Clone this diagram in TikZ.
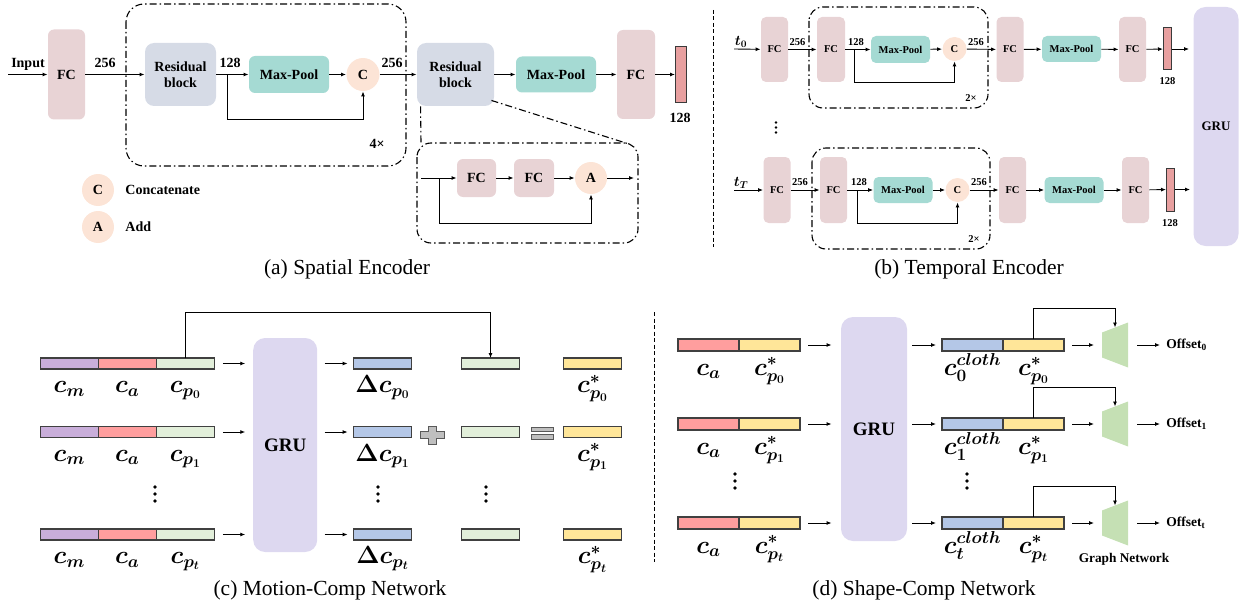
\documentclass[tikz,border=0pt]{standalone}
\usepackage[no-math]{fontspec}
\setmainfont{Liberation Serif}
\usepackage{bm}
\usetikzlibrary{arrows.meta,positioning}

\definecolor{fcpink}{HTML}{E8D3D5}
\definecolor{resblue}{HTML}{D6DBE6}
\definecolor{poolteal}{HTML}{A5DAD3}
\definecolor{opeach}{HTML}{FCE4D6}
\definecolor{barred}{HTML}{E8A0A0}
\definecolor{bardark}{HTML}{3A3A3A}
\definecolor{grulav}{HTML}{DDD8F0}
\definecolor{segpurple}{HTML}{C9AEDA}
\definecolor{segred}{HTML}{FF9E9E}
\definecolor{seggreen}{HTML}{E2EFDA}
\definecolor{segblue}{HTML}{B4C7E7}
\definecolor{segyellow}{HTML}{FFE699}
\definecolor{segdark}{HTML}{404040}
\definecolor{gnet}{HTML}{C5E0B4}
\definecolor{opgray}{HTML}{BFBFBF}
\definecolor{opdark}{HTML}{595959}

\begin{document}
\begin{tikzpicture}[x=1pt, y=-1pt, line width=0.9pt, >={Latex[length=5pt,width=4pt]}]
\tikzset{blk/.style={inner sep=0pt, rounded corners=6pt, align=center, font=\bfseries\fontsize{14}{16}\selectfont}}
\tikzset{bsm/.style={font=\bfseries\fontsize{10.5}{12}\selectfont, rounded corners=5pt}}
\tikzset{fcbox/.style={blk, fill=fcpink}}
\tikzset{resbox/.style={blk, fill=resblue, rounded corners=9pt}}
\tikzset{poolbox/.style={blk, fill=poolteal}}
\tikzset{opnode/.style={circle, fill=opeach, inner sep=0pt, font=\bfseries\fontsize{14}{16}\selectfont}}
\tikzset{featbar/.style={draw=bardark, fill=barred, inner sep=0pt, line width=1pt}}
\tikzset{grpbox/.style={line width=1.1pt, dash pattern=on 7pt off 3pt on 1.5pt off 3pt}}
\tikzset{num/.style={inner sep=0pt, font=\bfseries\fontsize{14}{16}\selectfont}}
\tikzset{grubox/.style={fill=grulav, rounded corners=12pt, inner sep=0pt, font=\bfseries\fontsize{19}{21}\selectfont}}
\tikzset{seg/.style={draw=segdark, line width=1.1pt, inner sep=0pt, outer sep=0pt, minimum width=58pt, minimum height=11pt}}
\tikzset{segd/.style={seg, minimum width=61pt, minimum height=12pt}}
\tikzset{lab/.style={anchor=base, inner sep=0pt, font=\fontsize{23}{23}\selectfont}}
\tikzset{capt/.style={inner sep=0pt, font=\fontsize{21.5}{24}\selectfont}}
\tikzset{opsign/.style={fill=opgray, draw=opdark, line width=0.8pt}}
\useasboundingbox (0,0) rectangle (1241,607);

% (a) spatial encoder
\node[num] (inp) at (28,64) {Input};
\coordinate (inA) at (8,74.5);
\node[fcbox, minimum width=37pt, minimum height=90pt] (fcA) at (66.5,74.5) {FC};
\node[resbox, minimum width=71pt, minimum height=63pt] (resA) at (180.5,74.5) {Residual\\block};
\node[poolbox, minimum width=80pt, minimum height=37pt] (poolA) at (289,74.5) {Max-Pool};
\node[opnode, minimum size=33pt] (catA) at (363,74.5) {C};
\node[resbox, minimum width=77pt, minimum height=63pt] (resB) at (455.5,74.5) {Residual\\block};
\node[poolbox, minimum width=80pt, minimum height=36pt] (poolB) at (556,74.5) {Max-Pool};
\node[fcbox, minimum width=38pt, minimum height=89pt] (fcB) at (636,74.5) {FC};
\node[featbar, minimum width=11pt, minimum height=56pt] (barA) at (681,74.5) {};
\node[num] (nA1) at (105,63) {256};
\node[num] (nA2) at (230,63) {128};
\node[num] (nA3) at (392,63) {256};
\node[num] (nA4) at (680,118) {128};
\node[num] (repA) at (377,144) {4×};
\draw[->] (inA) -- (fcA);
\draw[->] (fcA) -- (resA);
\draw[->] (resA) -- (poolA);
\draw[->] (poolA) -- (catA);
\draw[->] (catA) -- (resB);
\draw[->] (resB) -- (poolB);
\draw[->] (poolB) -- (fcB);
\draw[->] (fcB) -- (barA);
\coordinate (skipA) at (227,74.5);
\draw[->] (skipA) -- ++(0,44.5) -| (catA);
\draw[grpbox, rounded corners=18pt] (126,4) rectangle (406,166);
\node[opnode, minimum size=32pt] (legC) at (98,190) {C};
\node[num, anchor=west] (legCt) at (125,190) {Concatenate};
\node[opnode, minimum size=32pt] (legA) at (98,227) {A};
\node[num, anchor=west] (legAt) at (125,227) {Add};
% residual block detail
\draw[grpbox] ([xshift=4pt]resB.south west) -- (421,143);
\draw[grpbox] ([shift={(-3pt,6pt)}]resB.south east) -- (629,144);
\draw[grpbox, rounded corners=14pt] (417,143) rectangle (638,243);
\coordinate (inB) at (421,178);
\node[fcbox, minimum width=39pt, minimum height=38pt] (fcC) at (476.5,178) {FC};
\node[fcbox, minimum width=40pt, minimum height=38pt] (fcD) at (534,178) {FC};
\node[opnode, minimum size=32pt] (addA) at (591,178) {A};
\coordinate (outB) at (634,178);
\draw[->] (inB) -- (fcC);
\draw[->] (fcC) -- (fcD);
\draw[->] (fcD) -- (addA);
\draw[->] (addA) -- (outB);
\coordinate (skipB) at (439,178);
\draw[->] (skipB) -- ++(0,45) -| (addA);
\node[capt] (capA) at (347,269) {(a) Spatial Encoder};

\draw[line width=0.8pt, dash pattern=on 4pt off 2.5pt] (713,10) -- (713,247);

% (b) temporal encoder, first step
\node[inner sep=0pt, font=\fontsize{14}{14}\selectfont] (tA) at (741,42) {$\bm{t_0}$};
\coordinate (inC) at (734,49);
\node[fcbox, bsm, minimum width=27pt, minimum height=65pt] (fcE) at (774.5,49.5) {FC};
\node[fcbox, bsm, minimum width=28pt, minimum height=65pt] (fcF) at (831,49.5) {FC};
\node[poolbox, bsm, minimum width=59pt, minimum height=27pt] (poolC) at (900.5,49.5) {Max-Pool};
\node[opnode, bsm, minimum size=24pt] (catB) at (954.5,49) {C};
\node[fcbox, bsm, minimum width=27pt, minimum height=65pt] (fcG) at (1010,49.5) {FC};
\node[poolbox, bsm, minimum width=59pt, minimum height=26pt] (poolD) at (1071.5,49) {Max-Pool};
\node[fcbox, bsm, minimum width=27pt, minimum height=65pt] (fcH) at (1132.5,49.5) {FC};
\node[featbar, minimum width=8pt, minimum height=42pt] (barB) at (1167.5,49) {};
\node[num, bsm] (nB1) at (797.5,42) {256};
\node[num, bsm] (nB2) at (856,42) {128};
\node[num, bsm] (nB3) at (976,42) {256};
\node[num, bsm] (nB4) at (1167.5,81) {128};
\node[num, bsm] (repB) at (971,98) {2×};
\node[grubox, font=\bfseries\fontsize{13}{15}\selectfont, minimum width=45pt, minimum height=239pt] (gruB) at (1216,126.5) {GRU};
\draw[->] (inC) -- (fcE);
\draw[->] (fcE) -- (fcF);
\draw[->] (fcF) -- (poolC);
\draw[->] (poolC) -- (catB);
\draw[->] (catB) -- (fcG);
\draw[->] (fcG) -- (poolD);
\draw[->] (poolD) -- (fcH);
\draw[->] (fcH) -- (barB);
\draw[->, shorten >=4pt] (barB) -- (barB -| gruB.west);
\coordinate (skipC) at (854.5,49);
\draw[->] (skipC) -- ++(0,33) -| (catB);
\draw[grpbox, rounded corners=14pt] (809,7) rectangle (988,108);
\fill (776,122.5) circle (1.4) (776,127.5) circle (1.4) (776,132.5) circle (1.4);
% (b) last step
\node[inner sep=0pt, font=\fontsize{14}{14}\selectfont] (tB) at (741,183) {$\bm{t_T}$};
\coordinate (inD) at (734,190);
\node[fcbox, bsm, minimum width=27pt, minimum height=66pt] (fcI) at (777,190) {FC};
\node[fcbox, bsm, minimum width=27pt, minimum height=66pt] (fcJ) at (833.5,190) {FC};
\node[poolbox, bsm, minimum width=59pt, minimum height=26pt] (poolE) at (903,190) {Max-Pool};
\node[opnode, bsm, minimum size=24pt] (catC) at (957.5,190) {C};
\node[fcbox, bsm, minimum width=27pt, minimum height=66pt] (fcK) at (1012.5,190) {FC};
\node[poolbox, bsm, minimum width=59pt, minimum height=26pt] (poolF) at (1074,190) {Max-Pool};
\node[fcbox, bsm, minimum width=27pt, minimum height=66pt] (fcL) at (1135.5,190) {FC};
\node[featbar, minimum width=8pt, minimum height=43pt] (barC) at (1170.5,189.5) {};
\node[num, bsm] (nC1) at (800,182) {256};
\node[num, bsm] (nC2) at (859,182) {128};
\node[num, bsm] (nC3) at (979,182) {256};
\node[num, bsm] (nC4) at (1170,223) {128};
\node[num, bsm] (repC) at (974,239) {2×};
\draw[->] (inD) -- (fcI);
\draw[->] (fcI) -- (fcJ);
\draw[->] (fcJ) -- (poolE);
\draw[->] (poolE) -- (catC);
\draw[->] (catC) -- (fcK);
\draw[->] (fcK) -- (poolF);
\draw[->] (poolF) -- (fcL);
\draw[->] (fcL) -- (barC);
\draw[->, shorten >=3pt] (barC) -- (barC -| gruB.west);
\coordinate (skipD) at (857.5,190);
\draw[->] (skipD) -- ++(0,33) -| (catC);
\draw[grpbox, rounded corners=14pt] (812,148) rectangle (990,249);
\node[capt] (capB) at (969,269) {(b) Temporal Encoder};

% (c) motion-comp network
\node[grubox, minimum width=64pt, minimum height=214pt] (gruC) at (285.2,445) {GRU};
\node[seg, fill=segpurple] (cmA) at (69.3,363.5) {};
\node[seg, fill=segred, right=0pt of cmA] (caA) {};
\node[seg, fill=seggreen, right=0pt of caA] (cpA) {};
\node[seg, fill=segblue] (dcA) at (382.6,363.5) {};
\node[seg, fill=seggreen] (gpA) at (490.5,363.5) {};
\node[seg, fill=segyellow] (ysA) at (592.5,363.5) {};
\node[seg, fill=segpurple] (cmB) at (69.3,432) {};
\node[seg, fill=segred, right=0pt of cmB] (caB) {};
\node[seg, fill=seggreen, right=0pt of caB] (cpB) {};
\node[seg, fill=segblue] (dcB) at (382.6,432) {};
\node[seg, fill=seggreen] (gpB) at (490.5,432) {};
\node[seg, fill=segyellow] (ysB) at (592.5,432) {};
\node[seg, fill=segpurple] (cmC) at (69.3,534.5) {};
\node[seg, fill=segred, right=0pt of cmC] (caC) {};
\node[seg, fill=seggreen, right=0pt of caC] (cpC) {};
\node[seg, fill=segblue] (dcC) at (382.6,534.5) {};
\node[seg, fill=seggreen] (gpC) at (490.5,534.5) {};
\node[seg, fill=segyellow] (ysC) at (592.5,534.5) {};
\node[lab] (lcmA) at ([yshift=-29pt]cmA.center) {$\bm{c_m}$};
\node[lab] (lcaA) at ([yshift=-29pt]caA.center) {$\bm{c_a}$};
\node[lab] (lcpA) at ([yshift=-29pt]cpA.center) {$\bm{c_{p_0}}$};
\node[lab] (ldcA) at ([yshift=-29pt]dcA.center) {$\bm{\Delta c_{p_0}}$};
\node[lab] (lysA) at ([yshift=-29pt]ysA.center) {$\bm{c^{*}_{p_0}}$};
\node[lab] (lcmB) at ([yshift=-29pt]cmB.center) {$\bm{c_m}$};
\node[lab] (lcaB) at ([yshift=-29pt]caB.center) {$\bm{c_a}$};
\node[lab] (lcpB) at ([yshift=-29pt]cpB.center) {$\bm{c_{p_1}}$};
\node[lab] (ldcB) at ([yshift=-29pt]dcB.center) {$\bm{\Delta c_{p_1}}$};
\node[lab] (lysB) at ([yshift=-29pt]ysB.center) {$\bm{c^{*}_{p_1}}$};
\node[lab] (lcmC) at ([yshift=-29pt]cmC.center) {$\bm{c_m}$};
\node[lab] (lcaC) at ([yshift=-29pt]caC.center) {$\bm{c_a}$};
\node[lab] (lcpC) at ([yshift=-29pt]cpC.center) {$\bm{c_{p_t}}$};
\node[lab] (ldcC) at ([yshift=-29pt]dcC.center) {$\bm{\Delta c_{p_t}}$};
\node[lab] (lysC) at ([yshift=-29pt]ysC.center) {$\bm{c^{*}_{p_t}}$};
\draw[->, shorten <=8.5pt, shorten >=7.5pt] (cpA) -- (cpA -| gruC.west);
\draw[->, shorten <=8.5pt, shorten >=7.5pt] (cpB) -- (cpB -| gruC.west);
\draw[->, shorten <=8.5pt, shorten >=7.5pt] (cpC) -- (cpC -| gruC.west);
\draw[->, shorten <=7pt, shorten >=6pt] (dcA -| gruC.east) -- (dcA);
\draw[->, shorten <=7pt, shorten >=6pt] (dcB -| gruC.east) -- (dcB);
\draw[->, shorten <=7pt, shorten >=6pt] (dcC -| gruC.east) -- (dcC);
\draw[->] (cpA.north) -- ++(0,-46) -| (gpA.north);
\filldraw[opsign, shift={(432.4,435)}] (-4,-9) -- (4,-9) -- (4,-3.5) -- (12,-3.5) -- (12,3.5) -- (4,3.5) -- (4,9) -- (-4,9) -- (-4,3.5) -- (-12,3.5) -- (-12,-3.5) -- (-4,-3.5) -- cycle;
\filldraw[opsign] (531,427) rectangle (553,431.5);
\filldraw[opsign] (531,434.5) rectangle (553,439);
\fill (155,487) circle (1.8) (155,494) circle (1.8) (155,501) circle (1.8);
\fill (378,487) circle (1.8) (378,494) circle (1.8) (378,501) circle (1.8);
\fill (486,487) circle (1.8) (486,494) circle (1.8) (486,501) circle (1.8);
\node[capt] (capC) at (330,590) {(c) Motion-Comp Network};

\draw[line width=0.8pt, dash pattern=on 4pt off 2.5pt] (654,312) -- (654,562);

% (d) shape-comp network
\node[grubox, minimum width=66pt, minimum height=224pt] (gruD) at (874,429) {GRU};
\node[segd, fill=segred] (caD) at (708.5,345) {};
\node[segd, fill=segyellow, right=0pt of caD] (psD) {};
\node[segd, fill=segblue] (clD) at (972.5,345) {};
\node[segd, fill=segyellow, right=0pt of clD] (qsD) {};
\node[segd, fill=segred] (caE) at (708.5,424) {};
\node[segd, fill=segyellow, right=0pt of caE] (psE) {};
\node[segd, fill=segblue] (clE) at (972.5,424) {};
\node[segd, fill=segyellow, right=0pt of clE] (qsE) {};
\node[segd, fill=segred] (caF) at (708.5,523) {};
\node[segd, fill=segyellow, right=0pt of caF] (psF) {};
\node[segd, fill=segblue] (clF) at (972.5,523) {};
\node[segd, fill=segyellow, right=0pt of clF] (qsF) {};
\node[lab] (lcaD) at ([yshift=-30pt]caD.center) {$\bm{c_a}$};
\node[lab] (lpsD) at ([yshift=-30pt]psD.center) {$\bm{c^{*}_{p_0}}$};
\node[lab] (lclD) at ([yshift=-30pt]clD.center) {$\bm{c^{cloth}_{0}}$};
\node[lab] (lqsD) at ([yshift=-30pt]qsD.center) {$\bm{c^{*}_{p_0}}$};
\node[lab] (lcaE) at ([yshift=-30pt]caE.center) {$\bm{c_a}$};
\node[lab] (lpsE) at ([yshift=-30pt]psE.center) {$\bm{c^{*}_{p_1}}$};
\node[lab] (lclE) at ([yshift=-30pt]clE.center) {$\bm{c^{cloth}_{1}}$};
\node[lab] (lqsE) at ([yshift=-30pt]qsE.center) {$\bm{c^{*}_{p_1}}$};
\node[lab] (lcaF) at ([yshift=-30pt]caF.center) {$\bm{c_a}$};
\node[lab] (lpsF) at ([yshift=-30pt]psF.center) {$\bm{c^{*}_{p_t}}$};
\node[lab] (lclF) at ([yshift=-30pt]clF.center) {$\bm{c^{cloth}_{t}}$};
\node[lab] (lqsF) at ([yshift=-30pt]qsF.center) {$\bm{c^{*}_{p_t}}$};
\draw[->, shorten <=8pt, shorten >=9pt] (psD) -- (psD -| gruD.west);
\draw[->, shorten <=8pt, shorten >=9pt] (psE) -- (psE -| gruD.west);
\draw[->, shorten <=8pt, shorten >=9pt] (psF) -- (psF -| gruD.west);
\draw[->, shorten <=5pt, shorten >=6pt] (clD -| gruD.east) -- (clD);
\draw[->, shorten <=5pt, shorten >=6pt] (clE -| gruD.east) -- (clE);
\draw[->, shorten <=5pt, shorten >=6pt] (clF -| gruD.east) -- (clF);
% graph networks
\fill[gnet, shift={(1115,345)}] (-13,-12.5) -- (13,-22.5) -- (13,22.5) -- (-13,12.5) -- cycle;
\coordinate (gwD) at (1102,345);
\coordinate (geD) at (1128,345);
\coordinate (gtD) at (1115,327.5);
\fill[gnet, shift={(1115,424)}] (-13,-12.5) -- (13,-22.5) -- (13,22.5) -- (-13,12.5) -- cycle;
\coordinate (gwE) at (1102,424);
\coordinate (geE) at (1128,424);
\coordinate (gtE) at (1115,406.5);
\fill[gnet, shift={(1115,523)}] (-13,-12.5) -- (13,-22.5) -- (13,22.5) -- (-13,12.5) -- cycle;
\coordinate (gwF) at (1102,523);
\coordinate (geF) at (1128,523);
\coordinate (gtF) at (1115,505.5);
\node[num, anchor=west, font=\bfseries\fontsize{13.5}{15}\selectfont] (offD) at (1166,345) {Offset\textsubscript{0}};
\node[num, anchor=west, font=\bfseries\fontsize{13.5}{15}\selectfont] (offE) at (1166,424) {Offset\textsubscript{1}};
\node[num, anchor=west, font=\bfseries\fontsize{13.5}{15}\selectfont] (offF) at (1166,523) {Offset\textsubscript{t}};
\draw[->, shorten <=8pt, shorten >=8pt] (qsD) -- (gwD);
\draw[->, shorten <=8pt, shorten >=8pt] (qsE) -- (gwE);
\draw[->, shorten <=8pt, shorten >=8pt] (qsF) -- (gwF);
\draw[->, shorten <=9pt, shorten >=6pt] (geD) -- (offD);
\draw[->, shorten <=9pt, shorten >=6pt] (geE) -- (offE);
\draw[->, shorten <=9pt, shorten >=6pt] (geF) -- (offF);
\draw[->] (qsD.north) -- ++(0,-31) -| (gtD);
\draw[->] (qsE.north) -- ++(0,-31) -| (gtE);
\draw[->] (qsF.north) -- ++(0,-31) -| (gtF);
\node[num, font=\bfseries\fontsize{13.3}{15}\selectfont] (gname) at (1124,559) {Graph Network};
\fill (735,474) circle (1.8) (735,481) circle (1.8) (735,488) circle (1.8);
\fill (967,474) circle (1.8) (967,481) circle (1.8) (967,488) circle (1.8);
\node[capt] (capD) at (924,590) {(d) Shape-Comp Network};
\end{tikzpicture}
\end{document}
